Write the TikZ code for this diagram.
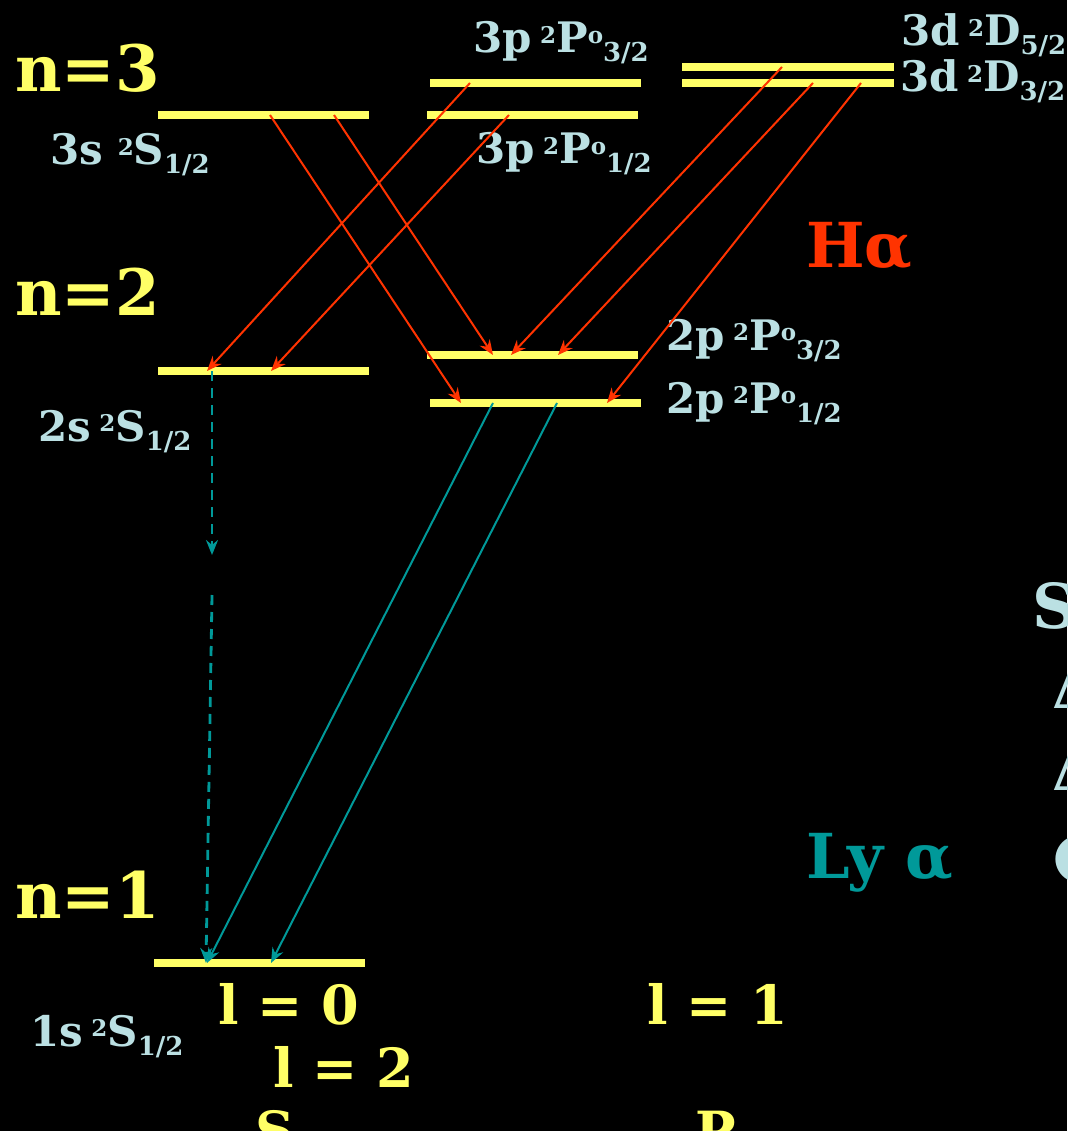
\documentclass[tikz,border=0pt]{standalone}
\usepackage{fontspec}
\setmainfont{DejaVu Serif}
\newfontfamily\symfont{DejaVu Sans}
\usetikzlibrary{arrows.meta,calc}
\definecolor{levelyellow}{HTML}{FFFF66}
\definecolor{termblue}{HTML}{BBE0E3}
\definecolor{balmer}{HTML}{FF3300}
\definecolor{lyman}{HTML}{009999}
\newcommand{\supr}[1]{\raisebox{9.5pt}{\fontsize{23}{26}\selectfont #1}}
\newcommand{\subr}[1]{\raisebox{-9pt}{\fontsize{26}{30}\selectfont #1}}
\newcommand{\termsym}[3]{#1\hspace{0.2em}\supr{2}#2\subr{#3}}
\tikzset{
  level/.style={fill=levelyellow, inner sep=0pt, minimum width=211pt, minimum height=8pt, anchor=west},
  term/.style={font=\bfseries\fontsize{42}{48}\selectfont, text=termblue, anchor=base west, inner sep=0pt},
  shell/.style={font=\bfseries\fontsize{64}{70}\selectfont, text=levelyellow, anchor=base west, inner sep=0pt},
  lnum/.style={font=\bfseries\fontsize{54}{60}\selectfont, text=levelyellow, anchor=base west, inner sep=0pt},
  side/.style={font=\bfseries\fontsize{62}{68}\selectfont, anchor=base west, inner sep=0pt},
  halpha/.style={draw=balmer, line width=2pt, -{Stealth[length=15pt,width=12pt,inset=5pt]}},
  lyalpha/.style={draw=lyman, line width=2pt, -{Stealth[length=15pt,width=12pt,inset=5pt]}},
  decay/.style={lyalpha, line width=2.8pt, dash pattern=on 10pt off 7pt},
}

\begin{document}
\begin{tikzpicture}[x=1pt,y=-1pt]
  \useasboundingbox (0,0) rectangle (1067,1131);
  \clip (0,0) rectangle (1067,1131);
  \fill[black] (0,0) rectangle (1067,1131);

  % n=3 levels
  \node[level] (l3s) at (158,115) {};
  \node[level] (l3p32) at (430,83) {};
  \node[level] (l3p12) at (427,115) {};
  \node[level, minimum width=212pt] (l3d52) at (682,67) {};
  \node[level, minimum width=212pt] (l3d32) at (682,83) {};

  % n=2 levels
  \node[level] (l2s) at (158,371) {};
  \node[level] (l2p32) at (427,355) {};
  \node[level] (l2p12) at (430,403) {};

  % n=1 level
  \node[level] (l1s) at (154,963) {};

  % shell labels
  \node[shell] (n3) at (15,92) {n=3};
  \node[shell] (n2) at (15,316) {n=2};
  \node[shell] (n1) at (15,918) {n=1};

  % term labels
  \node[term] (t3s) at (50,165) {3s\hspace{0.15em}\termsym{}{S}{1/2}};
  \node[term] (t3p32) at (473,53) {\termsym{3p}{P\supr{o}}{3/2}};
  \node[term] (t3p12) at (476,164) {\termsym{3p}{P\supr{o}}{1/2}};
  \node[term] (t3d52) at (901,46) {\termsym{3d}{D}{5/2}};
  \node[term] (t3d32) at (900,92) {\termsym{3d}{D}{3/2}};
  \node[term] (t2p32) at (666,350) {\termsym{2p}{P\supr{o}}{3/2}};
  \node[term] (t2p12) at (666,413) {\termsym{2p}{P\supr{o}}{1/2}};
  \node[term] (t2s) at (38,441) {\termsym{2s}{S}{1/2}};
  \node[term] (t1s) at (30,1046) {\termsym{1s}{S}{1/2}};

  % orbital quantum numbers
  \node[lnum] (lzero) at (218,1024) {l = 0};
  \node[lnum] (lone) at (647,1024) {l = 1};
  \node[lnum] (ltwo) at (273,1087) {l = 2};
  \node[lnum] (sname) at (255,1150) {S};
  \node[lnum] (pname) at (695,1150) {P};

  % line names
  \node[side, text=balmer] (ha) at (806,268) {Hα};
  \node[side, text=lyman] (lya) at (806,878) {Ly α};

  % right margin
  \node[side, text=termblue] (rs) at (1032,628) {S};
  \node[side, text=termblue] (rd1) at (1052,708) {Δ};
  \node[side, text=termblue] (rd2) at (1052,790) {Δ};
  \node[side, text=termblue, font=\symfont\bfseries\fontsize{62}{68}\selectfont] (rdot) at (1052,875) {●};

  % H alpha transitions
  \draw[halpha] ($(l3s.west)+(176,0)$) -- ($(l2p32.west)+(66,0)$);
  \draw[halpha] ($(l3s.west)+(112,0)$) -- ($(l2p12.west)+(31,0)$);
  \draw[halpha] ($(l3p32.west)+(40,0)$) -- ($(l2s.west)+(49,0)$);
  \draw[halpha] ($(l3p12.west)+(82,0)$) -- ($(l2s.west)+(113,0)$);
  \draw[halpha] ($(l3d52.west)+(100,0)$) -- ($(l2p32.west)+(84,0)$);
  \draw[halpha] ($(l3d32.west)+(131,0)$) -- ($(l2p32.west)+(131,0)$);
  \draw[halpha] ($(l3d32.west)+(179,0)$) -- ($(l2p12.west)+(177,0)$);

  % Ly alpha transitions
  \draw[lyalpha] ($(l2p12.west)+(63,0)$) -- ($(l1s.west)+(53,0)$);
  \draw[lyalpha] ($(l2p12.west)+(127,0)$) -- ($(l1s.west)+(117,0)$);

  % 2s decay
  \coordinate (gapa) at (212,555);
  \coordinate (gapb) at (212,595);
  \draw[decay] ($(l2s.west)+(54,0)$) -- (gapa);
  \draw[decay] (gapb) -- ($(l1s.west)+(52,0)$);
\end{tikzpicture}
\end{document}
